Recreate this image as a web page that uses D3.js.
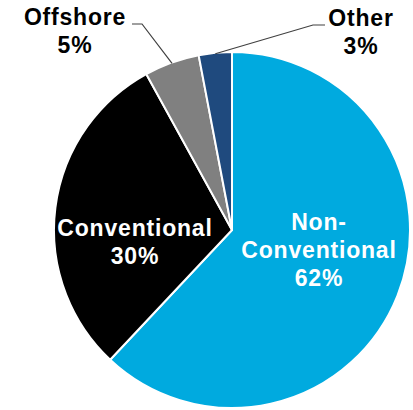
<!DOCTYPE html>
<html>
<head>
<meta charset="utf-8">
<script src="https://cdn.jsdelivr.net/npm/d3@7"></script>
<style>
  html, body { margin: 0; padding: 0; background: #fff; }
  svg { display: block; }
  text { font-family: "Liberation Sans", Arial, sans-serif; font-weight: bold; }
</style>
</head>
<body>
<svg id="chart" width="413" height="410"></svg>
<script>
// Share of production by resource type (percent)
const categories = ["Non-Conventional", "Conventional", "Offshore", "Other"];
const values = [62, 30, 5, 3];
const colors = ["#00AADF", "#000000", "#808080", "#1F4A7E"];
// Label lines for each slice (name lines, then the value line is added)
const labelLines = [["Non-", "Conventional"], ["Conventional"], ["Offshore"], ["Other"]];

const width = 413, height = 410;
const cx = 232, cy = 230, radius = 178;

const svg = d3.select("#chart");
const g = svg.append("g").attr("transform", `translate(${cx},${cy})`);

const pie = d3.pie().sort(null).value(d => d.value);
const arcs = pie(categories.map((c, i) => ({ name: c, value: values[i], color: colors[i], lines: labelLines[i] })));
const arc = d3.arc().innerRadius(0).outerRadius(radius);

g.selectAll("path.slice")
  .data(arcs)
  .join("path")
  .attr("class", "slice")
  .attr("d", arc)
  .attr("fill", d => d.data.color)
  .attr("stroke", "#fff")
  .attr("stroke-width", 2)
  .attr("stroke-linejoin", "round");

// Label placement (relative to the pie centre) and leader lines for small slices
const labelLayout = {
  "Non-Conventional": { x: 87, y: 20, inside: true },
  "Conventional": { x: -97, y: 12, inside: true },
  "Offshore": { x: -157, y: -199, inside: false, elbow: [-90, -206], end: [-100, -206] },
  "Other": { x: 129, y: -198, inside: false, elbow: [81, -205], end: [93, -205] }
};

const lineH = 28;
const outerPoint = d => {
  const a = (d.startAngle + d.endAngle) / 2;
  return [Math.sin(a) * (radius - 1), -Math.cos(a) * (radius - 1)];
};

arcs.forEach(d => {
  const L = labelLayout[d.data.name];
  const lines = d.data.lines.concat([d.data.value + "%"]);
  if (!L.inside) {
    const p = outerPoint(d);
    g.append("polyline")
      .attr("points", [p, L.elbow, L.end].map(q => q.join(",")).join(" "))
      .attr("fill", "none")
      .attr("stroke", "#404040")
      .attr("stroke-width", 1.2);
  }
  const n = lines.length;
  const t = g.append("text")
    .attr("text-anchor", "middle")
    .attr("font-size", 23)
    .attr("letter-spacing", 0.8)
    .attr("fill", L.inside ? "#fff" : "#000");
  lines.forEach((s, i) => {
    t.append("tspan")
      .attr("x", L.x)
      .attr("y", L.y + (i - (n - 1) / 2) * lineH + 8)
      .text(s);
  });
});
</script>
</body>
</html>
